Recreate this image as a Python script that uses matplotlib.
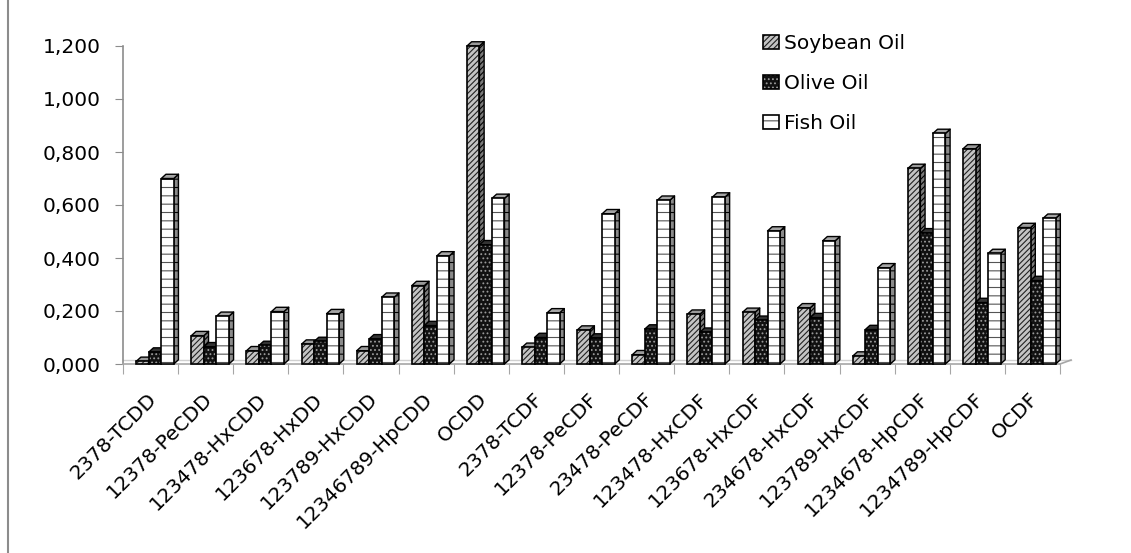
import numpy as np
import matplotlib.pyplot as plt
from matplotlib.patches import Patch
from matplotlib.collections import PolyCollection
from matplotlib.legend_handler import HandlerTuple
from matplotlib.lines import Line2D

categories = ["2378-TCDD", "12378-PeCDD", "123478-HxCDD", "123678-HxDD", "123789-HxCDD",
              "12346789-HpCDD", "OCDD", "2378-TCDF", "12378-PeCDF", "23478-PeCDF",
              "123478-HxCDF", "123678-HxCDF", "234678-HxCDF", "123789-HxCDF",
              "1234678-HpCDF", "1234789-HpCDF", "OCDF"]
soybean = [0.010, 0.107, 0.050, 0.075, 0.050, 0.296, 1.200, 0.063, 0.128, 0.035,
           0.188, 0.195, 0.212, 0.030, 0.738, 0.812, 0.515]
olive = [0.045, 0.065, 0.070, 0.085, 0.095, 0.145, 0.450, 0.100, 0.098, 0.132,
         0.120, 0.165, 0.175, 0.130, 0.495, 0.232, 0.315]
fish = [0.700, 0.180, 0.198, 0.190, 0.252, 0.408, 0.625, 0.193, 0.567, 0.618,
        0.630, 0.502, 0.465, 0.363, 0.870, 0.417, 0.550]
series_names = ["Soybean Oil", "Olive Oil", "Fish Oil"]

plt.rcParams['font.family'] = 'DejaVu Sans'
plt.rcParams['hatch.linewidth'] = 0.8

W, H = 1131, 553
fig = plt.figure(figsize=(W / 100, H / 100), dpi=100)
ax = fig.add_axes([123 / W, 1 - 364 / H, 937 / W, 318 / H])
ax.set_xlim(-0.5, 16.5)
ax.set_ylim(0, 1.2)

# face, hatch, hatch colour, side colour, top colour
styles = [
    ('#c4c4c4', '//////', '#222222', '#7a7a7a', '#9a9a9a'),
    ('#111111', '....', '#9a9a9a', '#111111', '#333333'),
    ('white', '--', '#555555', '#8a8a8a', '#a5a5a5'),
]
w, dx, dy, x0 = 0.227, 0.085, 0.016, -0.26
idx = np.arange(len(categories))

for j, vals in enumerate([soybean, olive, fish]):
    face, hatch, hcol, side, top = styles[j]
    z = 3 + j
    xl = idx + x0 + j * w
    sides = [[(x + w, 0), (x + w + dx, dy), (x + w + dx, h + dy), (x + w, h)] for x, h in zip(xl, vals)]
    tops = [[(x, h), (x + dx, h + dy), (x + w + dx, h + dy), (x + w, h)] for x, h in zip(xl, vals)]
    ax.add_collection(PolyCollection(sides, facecolors=side, edgecolors='black', linewidths=1.0,
                                     hatch=hatch, zorder=z, clip_on=False))
    ax.add_collection(PolyCollection(tops, facecolors=top, edgecolors='black', linewidths=1.0,
                                     zorder=z, clip_on=False))
    ax.bar(xl, vals, width=w, align='edge', color=face, edgecolor=hcol, hatch=hatch,
           linewidth=0, zorder=z, clip_on=False)
    ax.bar(xl, vals, width=w, align='edge', fill=False, edgecolor='black',
           linewidth=1.2, zorder=z, clip_on=False)

# floor
ax.plot([16.5, 16.5 + 0.2], [0, 0.015], color='#a6a6a6', lw=1.2, clip_on=False)
ax.plot([-0.5, 16.5 + 0.2], [0.015, 0.015], color='#d0d0d0', lw=1.0, clip_on=False, zorder=1)

for s in ['top', 'right']:
    ax.spines[s].set_visible(False)
ax.spines['left'].set_color('#8c8c8c')
ax.spines['bottom'].set_color('#a6a6a6')
ax.spines['left'].set_linewidth(1.2)
ax.spines['bottom'].set_linewidth(1.2)

yt = np.arange(0, 1.21, 0.2)
ax.set_yticks(yt, [f"{v:.3f}".replace('.', ',') for v in yt])
ax.tick_params(axis='y', direction='out', length=6, color='#8c8c8c', pad=10, labelsize=14.5)

ax.set_xticks(np.arange(-0.5, 17, 1.0), [''] * 18)
ax.set_xticks(idx + 0.06, categories, minor=True)
ax.tick_params(axis='x', which='major', direction='out', length=7, color='#a6a6a6')
ax.tick_params(axis='x', which='minor', length=0, pad=23, labelsize=14.5)
for lab in ax.get_xticklabels(minor=True):
    lab.set_rotation(45)
    lab.set_ha('right')
    lab.set_va('center')
    lab.set_rotation_mode('anchor')

handles = []
for face, hatch, hcol, side, top in styles:
    handles.append((Patch(facecolor=face, edgecolor=hcol, hatch=hatch, linewidth=0),
                    Patch(fill=False, edgecolor='black', linewidth=1.2)))
fig.legend(handles, series_names, loc='upper left', bbox_to_anchor=(763 / W, 1 - 34 / H),
           frameon=False, fontsize=14.5, handlelength=0.8, handleheight=0.7,
           handletextpad=0.25, labelspacing=1.05, borderpad=0, borderaxespad=0,
           handler_map={tuple: HandlerTuple(ndivide=1, pad=0)})

fig.add_artist(Line2D([8 / W, 8 / W], [0, 1], color='#8c8c8c', lw=1.5))

fig.savefig('out.png', dpi=100)
